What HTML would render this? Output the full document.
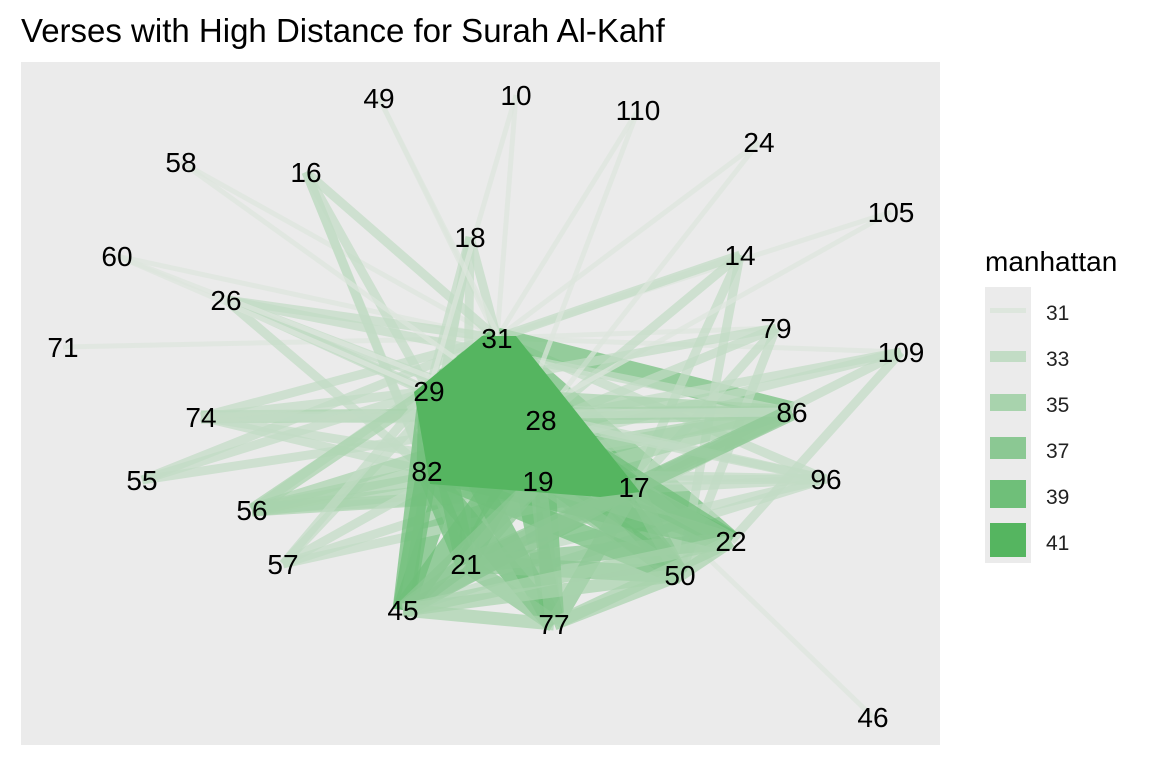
<!DOCTYPE html>
<html><head><meta charset="utf-8"><style>
body{margin:0;background:#fff;width:1152px;height:768px;overflow:hidden;font-family:"Liberation Sans",sans-serif}
</style></head><body>
<svg id="s" width="1152" height="768" xmlns="http://www.w3.org/2000/svg" font-family="Liberation Sans, sans-serif">
<text x="21" y="42" font-size="33" fill="#000">Verses with High Distance for Surah Al-Kahf</text>
<rect x="21" y="62" width="919" height="683" fill="#ebebeb"/>
<g id="edges"></g>
<g id="labels" font-size="28" fill="#000" text-anchor="middle"></g>
<text x="985" y="271" font-size="28">manhattan</text>
<rect x="985" y="287" width="46" height="276" fill="#ebebeb"/>
<rect x="990" y="308" width="36" height="5" fill="#dde6dd"/>
<rect x="990" y="351" width="36" height="11" fill="#c2dcc5"/>
<rect x="990" y="394" width="36" height="17" fill="#a8d3ad"/>
<rect x="990" y="437" width="36" height="22" fill="#8bc893"/>
<rect x="990" y="480" width="36" height="28" fill="#6fbf79"/>
<rect x="990" y="523" width="36" height="34" fill="#55b560"/>
<g font-size="21" fill="#222">
<text x="1046" y="320">31</text><text x="1046" y="366">33</text><text x="1046" y="412">35</text>
<text x="1046" y="458">37</text><text x="1046" y="504">39</text><text x="1046" y="550">41</text></g>
</svg>
<script>
var N={49:[379,98],10:[516,95],110:[638,110],24:[759,142],58:[181,162],16:[306,172],105:[891,212],18:[470,237],14:[740,255],60:[117,256],26:[226,300],79:[776,328],31:[497,338],109:[901,352],71:[63,347],29:[429,391],74:[201,417],86:[792,412],28:[541,420],82:[427,471],19:[538,481],17:[634,487],96:[826,479],55:[142,480],56:[252,510],22:[731,541],57:[283,564],21:[466,564],50:[680,575],45:[403,610],77:[554,624],46:[873,717]};
var cols=["#dde6dd","#c2dcc5","#a8d3ad","#8bc893","#6fbf79","#55b560"],ws=[5,9,13,17,21,25];
var E=[];
function a(x,list,l){list.forEach(function(y){E.push([x,y,l]);});}
a(31,[49,10,110,24,58,105,14,60,71,109,79],0);
a(31,[16,18,26,74,55,56,57,96],1);
a(31,[29,28,82,19,17,86,22,21,45,77,50],4);
a(16,[29,82,21],1);a(18,[29,82,45,21],1);a(14,[28,17,50,31],1);a(26,[29,28,17,86,82],1);
a(60,[29,28],0);a(58,[28],0);a(49,[28],0);a(24,[28],0);a(105,[82],0);a(46,[17],0);a(10,[29],0);a(110,[21],0);
a(79,[29,82,17,50],1);a(109,[28,82,17,22],1);a(86,[29,82,19,21,45,74,56,28],2);a(96,[29,82,21,45,19,28,56],1);
a(74,[28,17,86,29,82],1);a(55,[28,29],1);a(56,[28,17,19,29,82],2);a(57,[28,17,19,29],1);
a(29,[28,82,19,17,21,45,77,50,22],4);a(82,[28,19,17,21,45,77,50,22],4);a(28,[19,17,21,45,77,50,22],4);
a(19,[17,21,45,77,50,22],3);a(17,[21,45,77,50,22,86],3);a(21,[45,77,50,22],3);a(45,[77,50,22],2);a(77,[50,22],2);a(50,[22],2);
var g=document.getElementById('edges'),h='';
E.forEach(function(e){var p=N[e[0]],q=N[e[1]];
h+='<line x1="'+p[0]+'" y1="'+p[1]+'" x2="'+q[0]+'" y2="'+q[1]+'" stroke="'+cols[e[2]]+'" stroke-width="'+ws[e[2]]+'" stroke-opacity="0.7"/>';});
h+='<polygon points="482,336 516,336 640,492 600,497 430,484 414,392" fill="#55b560"/>';
g.innerHTML=h;
var L='';for(var k in N){L+='<text x="'+N[k][0]+'" y="'+(N[k][1]+10)+'">'+k+'</text>';}
document.getElementById('labels').innerHTML=L;
</script>
</body></html>
